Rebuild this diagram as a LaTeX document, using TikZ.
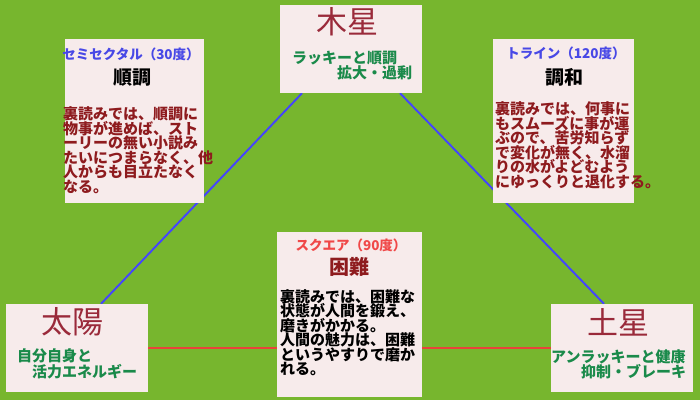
\documentclass[tikz,border=0pt]{standalone}
\usepackage{fontspec}
\setmainfont{Noto Sans CJK JP}
\usepackage{xcolor}
\usepackage{tikz}
\usetikzlibrary{positioning,calc}
\definecolor{cfondo}{HTML}{77B62E}
\definecolor{crosa}{HTML}{F7EBEB}
\definecolor{cazul}{HTML}{4444FF}
\definecolor{cazult}{HTML}{4848E6}
\definecolor{crojo}{HTML}{E8443A}
\definecolor{crojot}{HTML}{F04848}
\definecolor{cverde}{HTML}{1A8A4A}
\definecolor{cgranate}{HTML}{8E1B1E}
\definecolor{ctitulo}{HTML}{9A2A3A}
\lineskiplimit=-10pt
\pgfdeclarelayer{fondo}
\pgfdeclarelayer{lineas}
\pgfsetlayers{fondo,lineas,main}
\tikzset{
  caja/.style={rectangle, fill=crosa, inner sep=0pt},
  planeta/.style={font=\fontsize{31}{31}\selectfont, text=ctitulo, inner sep=0pt},
  clave/.style={font=\bfseries\fontsize{15}{15}\selectfont,
    text=cverde, align=left, inner sep=0pt, anchor=north west},
  aspecto/.style={font=\bfseries\fontsize{13.5}{13.5}\selectfont, inner sep=0pt},
  tema/.style={font=\bfseries\fontsize{19}{19}\selectfont, inner sep=0pt},
  cuerpo/.style={font=\bfseries\fontsize{15}{14.6}\selectfont,
    align=left, inner sep=0pt, anchor=north west},
  lazul/.style={draw=cazul, line width=1.9pt},
  lrojo/.style={draw=crojo, line width=2pt},
}
\begin{document}
\begin{tikzpicture}[x=1pt,y=-1pt]
  \begin{pgfonlayer}{fondo}
    \fill[cfondo] (0,0) rectangle (700,400);
  \end{pgfonlayer}
  \useasboundingbox (0,0) rectangle (700,400);

  % planetas
  \node[caja, minimum width=142pt, minimum height=88pt] (jup) at (351,49) {};
  \node[caja, minimum width=142pt, minimum height=88pt] (sol) at (77,348) {};
  \node[caja, minimum width=142pt, minimum height=88pt] (sat) at (622,348) {};
  \node[planeta] (jupt) at (347,22) {木星};
  \node[planeta] (solt) at (72,322) {太陽};
  \node[planeta] (satt) at (618,322) {土星};
  \node[clave] (jupc) at (292,50.5) {ラッキーと順調\\　　　拡大・過剰};
  \node[clave, font=\bfseries\fontsize{15}{16}\selectfont] (solc) at (17,348.5)
    {自分自身と\\　活力エネルギー};
  \node[clave] (satc) at (551,349.5) {アンラッキーと健康\\　　抑制・ブレーキ};

  % aspectos
  \node[caja, minimum width=139pt, minimum height=164pt] (semi) at (134.5,121) {};
  \node[caja, minimum width=141pt, minimum height=164pt] (tri) at (563.5,121) {};
  \node[caja, minimum width=145pt, minimum height=165pt] (cua) at (349.5,314.5) {};

  \node[aspecto, text=cazult] (semia) at (131,54) {セミセクタル（30度）};
  \node[tema] (semit) at (132,78) {順調};
  \node[cuerpo, text=cgranate] (semib) at (63,106.5)
    {裏読みでは、順調に\\物事が進めば、スト\\ーリーの無い小説み\\たいにつまらなく、他\\人からも目立たなく\\なる。};

  \node[aspecto, text=cazult] (tria) at (566,53) {トライン（120度）};
  \node[tema] (trit) at (564,77) {調和};
  \node[cuerpo, text=cgranate] (trib) at (495,101.5)
    {裏読みでは、何事に\\もスムーズに事が運\\ぶので、苦労知らず\\で変化が無く、水溜\\りの水がよどむよう\\にゆっくりと退化する。};

  \node[aspecto, text=crojot] (cuaa) at (351,245) {スクエア（90度）};
  \node[tema, text=cgranate, font=\bfseries\fontsize{20}{20}\selectfont] (cuat) at (349,267) {困難};
  \node[cuerpo, font=\bfseries\fontsize{15}{14.4}\selectfont] (cuab) at (280,289.5)
    {裏読みでは、困難な\\状態が人間を鍛え、\\磨きがかかる。\\人間の魅力は、困難\\というやすりで磨か\\れる。};

  \begin{pgfonlayer}{lineas}
    \draw[lazul] ([xshift=24pt]sol.north) -- ([xshift=-49pt]jup.south);
    \draw[lazul] ([xshift=49pt]jup.south) -- ([xshift=-18pt]sat.north);
    \draw[lrojo] (sol.east) -- (sat.west);
  \end{pgfonlayer}
\end{tikzpicture}
\end{document}
